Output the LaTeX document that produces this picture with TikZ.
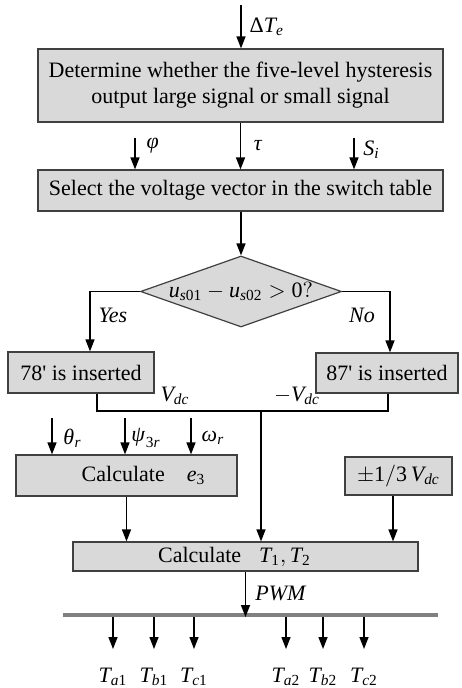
\documentclass[tikz,border=0pt]{standalone}
\usepackage{mathspec}
\setmainfont{Liberation Serif}
\setmathsfont(Digits,Latin,Greek){Liberation Serif}
\usetikzlibrary{arrows.meta,positioning,shapes.geometric}
\definecolor{boxgray}{HTML}{D9D9D9}
\definecolor{edgegray}{HTML}{404040}
\definecolor{busgray}{HTML}{808080}
\tikzset{
  procbox/.style={
    rectangle, draw=edgegray, fill=boxgray, line width=0.6pt,
    inner sep=0pt, align=center,
    font=\fontsize{11}{13}\selectfont
  },
  decision/.style={
    diamond, draw=edgegray, fill=boxgray, line width=0.6pt,
    aspect=2.8, inner sep=0pt,
    font=\fontsize{11}{13}\selectfont
  },
  sigarrow/.style={
    -{Triangle[length=6pt,width=4.5pt]}, line width=0.7pt
  },
  wire/.style={line width=0.7pt},
  siglabel/.style={
    font=\fontsize{11}{13}\selectfont, inner sep=0pt
  },
}

\begin{document}
\begin{tikzpicture}[x=0.5pt,y=-0.5pt]
  \useasboundingbox (0,0) rectangle (461,688);

  % Blocks
  \node[procbox, minimum width=202.5pt, minimum height=36.5pt] (det) at (240.5,85.5)
    {Determine whether the five-level hysteresis\\output large signal or small signal};
  \node[procbox, minimum width=202.5pt, minimum height=20.5pt] (sel) at (240.5,190.5)
    {Select the voltage vector in the switch table};
  \node[decision, minimum width=100.5pt, minimum height=35.5pt] (cmp) at (241,291.5)
    {$u_{s01}-u_{s02}>0?$};
  \node[procbox, minimum width=73pt, minimum height=20.5pt] (yes) at (81,372.5)
    {78\textquotesingle{} is inserted};
  \node[procbox, minimum width=71pt, minimum height=20pt] (no) at (387,373)
    {87\textquotesingle{} is inserted};
  \node[procbox, minimum width=110.5pt, minimum height=20.5pt] (e3) at (126.5,475.5)
    {\hspace*{17pt}Calculate\quad $e_3$};
  \node[procbox, minimum width=53.5pt, minimum height=19pt] (third) at (398.5,476)
    {$\pm 1/3\,V_{dc}$};
  \node[procbox, minimum width=172.5pt, minimum height=14.5pt] (calcT) at (245.5,556.5)
    {Calculate\hspace{9pt}$T_1,T_2$\hspace*{11pt}};

  % Inputs
  \coordinate (dTin) at (241,5);
  \coordinate (phiin) at (135,138);
  \coordinate (siin) at (354,138);
  \coordinate (thin) at (52,418);
  \coordinate (psiin) at (125,418);
  \coordinate (omin) at (191,418);

  \draw[sigarrow] (dTin) -- (dTin |- det.north);
  \draw[sigarrow] (phiin) -- (phiin |- sel.north);
  \draw[sigarrow] (det.south -| sel.north) -- (sel.north);
  \draw[sigarrow] (siin) -- (siin |- sel.north);
  \draw[sigarrow] (sel.south -| cmp.north) -- (cmp.north);

  % Annotations
  \node[siglabel, anchor=west] (dTlbl) at (249,27) {$\Delta T_e$};
  \node[siglabel, anchor=west] (philbl) at (146,146) {$\phi$};
  \node[siglabel, anchor=west] (taulbl) at (253,146) {$\tau$};
  \node[siglabel, anchor=west] (silbl) at (363,150) {$S_i$};

  % Branches
  \coordinate (yesin) at (90,0);
  \coordinate (noin) at (390,0);
  \draw[sigarrow] (cmp.west) -| (yesin |- yes.north);
  \draw[sigarrow] (cmp.east) -| (noin |- no.north);
  \node[siglabel] (yeslbl) at (113,315) {\textit{Yes}};
  \node[siglabel] (nolbl) at (362,315) {\textit{No}};

  % Merge
  \coordinate (yesout) at (97,0);
  \coordinate (noout) at (388,0);
  \coordinate (jn) at (261,411);
  \draw[wire] (yesout |- yes.south) |- (jn) -| (noout |- no.south);
  \node[siglabel] (vdc) at (175,396) {$V_{dc}$};
  \node[siglabel] (mvdc) at (297,396) {$-V_{dc}$};
  \draw[sigarrow] (jn) -- (jn |- calcT.north);

  \draw[sigarrow] (thin) -- (thin |- e3.north);
  \draw[sigarrow] (psiin) -- (psiin |- e3.north);
  \draw[sigarrow] (omin) -- (omin |- e3.north);
  \node[siglabel, anchor=west] (thlbl) at (63,438) {$\theta_r$};
  \node[siglabel, anchor=west] (psilbl) at (131,438) {$\psi_{3r}$};
  \node[siglabel, anchor=west] (omlbl) at (201,438) {$\omega_r$};

  \draw[sigarrow] (e3.south) -- (e3.south |- calcT.north);
  \coordinate (thout) at (393,0);
  \draw[sigarrow] (thout |- third.south) -- (thout |- calcT.north);

  % Output bus
  \coordinate (busL) at (63,615);
  \coordinate (busR) at (438,615);
  \draw[busgray, line width=2pt] (busL) -- (busR);
  \draw[sigarrow] (calcT.south) -- ([yshift=-1pt]calcT.south |- busL);
  \node[siglabel, anchor=west] (pwmlbl) at (255,593) {$PWM$};

  \foreach \x/\n in {113/a1, 154/b1, 194/c1, 286/a2, 323/b2, 364/c2}{
    \coordinate (o\n) at (\x,617);
    \draw[sigarrow] (o\n) -- ++(0,32);
    \node[siglabel] (T\n) at (\x,677) {$T_{\n}$};
  }
\end{tikzpicture}
\end{document}
